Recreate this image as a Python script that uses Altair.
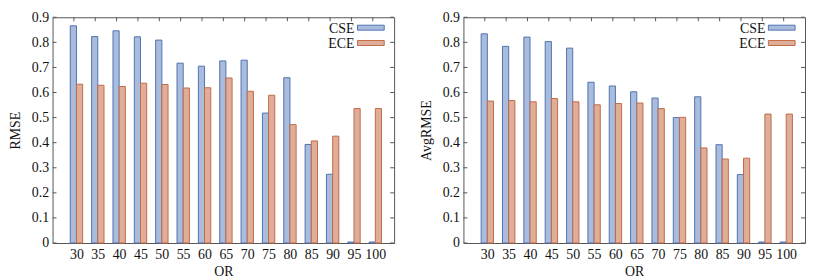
import altair as alt
import pandas as pd

# ---- data ----
OR = [30, 35, 40, 45, 50, 55, 60, 65, 70, 75, 80, 85, 90, 95, 100]
SERIES = ["CSE", "ECE"]

RMSE_CSE = [0.866, 0.823, 0.846, 0.822, 0.809, 0.717, 0.705, 0.726, 0.729, 0.518, 0.659, 0.393, 0.274, 0.004, 0.004]
RMSE_ECE = [0.633, 0.629, 0.624, 0.637, 0.632, 0.618, 0.619, 0.658, 0.605, 0.589, 0.472, 0.407, 0.426, 0.536, 0.536]

AVG_CSE = [0.834, 0.784, 0.821, 0.803, 0.777, 0.641, 0.626, 0.603, 0.578, 0.500, 0.583, 0.392, 0.273, 0.004, 0.004]
AVG_ECE = [0.566, 0.568, 0.563, 0.576, 0.563, 0.551, 0.556, 0.558, 0.536, 0.501, 0.379, 0.335, 0.338, 0.514, 0.514]

Y_TICKS = [0, 0.1, 0.2, 0.3, 0.4, 0.5, 0.6, 0.7, 0.8, 0.9]

# ---- styles ----
W, H = 345, 228
FONT = "Liberation Serif"
FS = 14
FILL = {"CSE": "#a9bcdd", "ECE": "#dfae9a"}
STROKE = {"CSE": "#4f73b0", "ECE": "#c26a45"}
FRAME = "#555555"

label_expr = "[" + ",".join("'%d'" % v for v in OR) + "][datum.value]"
XSCALE = alt.Scale(domain=[-1, len(OR)], nice=False, zero=False)
YSCALE = alt.Scale(domain=[0, 0.9], nice=False)


def x_axis():
    return alt.Axis(
        values=list(range(len(OR))),
        labelExpr=label_expr,
        labelOverlap=False,
        ticks=False,
        domain=False,
        grid=False,
        labelOffset=2.5,
        labelPadding=5,
        title="OR",
        titlePadding=3,
    )


def y_axis(title):
    return alt.Axis(
        values=Y_TICKS,
        format="~g",
        labelOverlap=False,
        ticks=False,
        domain=False,
        grid=False,
        labelPadding=4,
        title=title,
        titlePadding=9,
    )


def panel(cse, ece, ytitle):
    rows = []
    for i, o in enumerate(OR):
        rows.append({"idx": i, "OR": o, "series": "CSE", "value": cse[i]})
        rows.append({"idx": i, "OR": o, "series": "ECE", "value": ece[i]})
    df = pd.DataFrame(rows)

    bars = (
        alt.Chart(df)
        .transform_calculate(
            x0="datum.idx + (datum.series === 'CSE' ? -0.17 : 0.12)",
            x1="datum.idx + (datum.series === 'CSE' ? 0.12 : 0.41)",
            base="0",
        )
        .mark_rect(strokeWidth=1)
        .encode(
            x=alt.X("x0:Q", scale=XSCALE, axis=x_axis()),
            x2="x1:Q",
            y=alt.Y("value:Q", scale=YSCALE, axis=y_axis(ytitle)),
            y2="base:Q",
            fill=alt.Fill("series:N", scale=alt.Scale(domain=SERIES, range=[FILL[s] for s in SERIES]), legend=None),
            stroke=alt.Stroke("series:N", scale=alt.Scale(domain=SERIES, range=[STROKE[s] for s in SERIES]), legend=None),
        )
    )

    ydf = pd.DataFrame({"y": Y_TICKS})
    left_ticks = alt.Chart(ydf).mark_rule(color=FRAME, strokeWidth=1).encode(
        y=alt.Y("y:Q", scale=YSCALE, axis=y_axis(ytitle)), x=alt.value(0), x2=alt.value(4)
    )
    right_ticks = alt.Chart(ydf).mark_rule(color=FRAME, strokeWidth=1).encode(
        y=alt.Y("y:Q", scale=YSCALE, axis=y_axis(ytitle)), x=alt.value(W - 4), x2=alt.value(W)
    )
    xdf = pd.DataFrame({"idx": list(range(len(OR)))})
    top_ticks = alt.Chart(xdf).mark_rule(color=FRAME, strokeWidth=1).encode(
        x=alt.X("idx:Q", scale=XSCALE, axis=x_axis()), y=alt.value(0), y2=alt.value(4)
    )

    legend_layers = []
    for k, s in enumerate(SERIES):
        cy = 10.5 + 15.5 * k
        ldf = pd.DataFrame({"series": [s]})
        legend_layers.append(
            alt.Chart(ldf)
            .mark_text(align="right", baseline="middle", font=FONT, fontSize=FS, color="#111111")
            .encode(text="series:N", x=alt.value(W - 40), y=alt.value(cy + 1))
        )
        legend_layers.append(
            alt.Chart(ldf)
            .mark_rect(fill=FILL[s], stroke=STROKE[s], strokeWidth=1)
            .encode(x=alt.value(W - 37), x2=alt.value(W - 10), y=alt.value(cy - 2.5), y2=alt.value(cy + 2.5))
        )

    return alt.layer(bars, left_ticks, right_ticks, top_ticks, *legend_layers).properties(width=W, height=H)


chart = (
    alt.hconcat(
        panel(RMSE_CSE, RMSE_ECE, "RMSE"),
        panel(AVG_CSE, AVG_ECE, "AvgRMSE"),
        spacing=24,
    )
    .properties(padding={"left": 0, "top": 0, "right": 0, "bottom": 0})
    .configure_view(stroke=FRAME, strokeWidth=1)
    .configure_axis(
        labelFont=FONT,
        labelFontSize=FS,
        labelColor="#111111",
        titleFont=FONT,
        titleFontSize=FS,
        titleFontWeight="normal",
        titleColor="#111111",
    )
)

chart.save("out.html", embed_options={"renderer": "svg", "actions": False})
